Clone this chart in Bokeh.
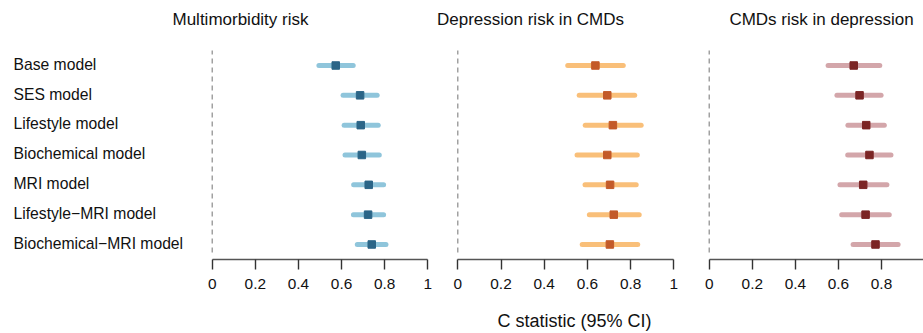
from bokeh.plotting import figure
from bokeh.layouts import row, column
from bokeh.models import Range1d, FixedTicker, Label, ColumnDataSource
from bokeh.embed import file_html
from bokeh.resources import INLINE
from bokeh.core.properties import value

# ---------------- data ----------------
models = ["Base model", "SES model", "Lifestyle model", "Biochemical model",
          "MRI model", "Lifestyle\u2212MRI model", "Biochemical\u2212MRI model"]
titles = ["Multimorbidity risk", "Depression risk in CMDs", "CMDs risk in depression"]
ticks = [0, 0.2, 0.4, 0.6, 0.8, 1]
tick_labels = ["0", "0.2", "0.4", "0.6", "0.8", "1"]
x_title = "C statistic (95% CI)"

est_multi = [0.573, 0.686, 0.689, 0.694, 0.726, 0.723, 0.740]
lo_multi = [0.495, 0.607, 0.612, 0.616, 0.656, 0.655, 0.673]
hi_multi = [0.654, 0.765, 0.770, 0.775, 0.795, 0.795, 0.806]

est_dep = [0.637, 0.692, 0.718, 0.692, 0.705, 0.722, 0.704]
lo_dep = [0.509, 0.562, 0.590, 0.552, 0.589, 0.609, 0.576]
hi_dep = [0.766, 0.819, 0.849, 0.831, 0.826, 0.840, 0.833]

est_cmd = [0.671, 0.698, 0.729, 0.744, 0.715, 0.726, 0.772]
lo_cmd = [0.552, 0.593, 0.644, 0.643, 0.607, 0.615, 0.668]
hi_cmd = [0.792, 0.798, 0.813, 0.844, 0.825, 0.836, 0.877]

# ---------------- style / layout ----------------
FONT = "Liberation Sans"
W = 923
H_TOTAL = 333
H = 300                     # height of the three panels
FRAME_BOTTOM = 259          # y of axis line
ROW0 = 65.0                 # y of first row
ROW_STEP = 29.83
n = len(models)
ys = [n - i for i in range(n)]
y_start = 1 - (FRAME_BOTTOM - (ROW0 + (n - 1) * ROW_STEP)) / ROW_STEP
y_end = y_start + FRAME_BOTTOM / ROW_STEP


def py(page_y):
    return y_start + (FRAME_BOTTOM - page_y) / ROW_STEP


panels = [
    dict(est=est_multi, lo=lo_multi, hi=hi_multi, title=titles[0],
         cl=0, cr=432, zero=211.7, scale=215.6, title_px=240,
         line="#8FC5DB", pt="#2B6587"),
    dict(est=est_dep, lo=lo_dep, hi=hi_dep, title=titles[1],
         cl=432, cr=680, zero=457.3, scale=216.0, title_px=530,
         line="#F9BF79", pt="#C35A29"),
    dict(est=est_cmd, lo=lo_cmd, hi=hi_cmd, title=titles[2],
         cl=680, cr=W, zero=708.7, scale=215.4, title_px=821,
         line="#D3A6AA", pt="#7B2525"),
]

figs = []
for k, d in enumerate(panels):
    width = d["cr"] - d["cl"]
    xs = (d["cl"] - d["zero"]) / d["scale"]
    xe = (d["cr"] - d["zero"]) / d["scale"]
    p = figure(width=width, height=H, title=None,
               x_range=Range1d(xs, xe), y_range=Range1d(y_start, y_end),
               output_backend="svg", toolbar_location=None,
               y_axis_location=None, min_border=0,
               min_border_left=0, min_border_right=0,
               min_border_top=0, min_border_bottom=H - FRAME_BOTTOM)
    p.outline_line_color = None
    p.xgrid.visible = False
    p.ygrid.visible = False
    p.background_fill_color = "white"
    p.border_fill_color = "white"

    src = ColumnDataSource(dict(y=ys, est=d["est"], lo=d["lo"], hi=d["hi"]))

    # reference line at 0
    p.segment(x0=[0], x1=[0], y0=[py(252)], y1=[py(50)],
              line_color="#8a8a8a", line_width=1.2, line_dash="5 4")

    p.segment(x0="lo", x1="hi", y0="y", y1="y", source=src,
              line_color=d["line"], line_width=5, line_cap="round")
    p.scatter(x="est", y="y", source=src, marker="square", size=7.5,
              fill_color=d["pt"], line_color=d["pt"])

    ax = p.xaxis[0]
    ax.ticker = FixedTicker(ticks=ticks)
    ax.major_label_overrides = {t: lab for t, lab in zip(ticks, tick_labels)}
    ax.bounds = (0, 1)
    ax.minor_tick_line_color = None
    ax.major_tick_in = 0
    ax.major_tick_out = 10
    ax.axis_line_color = "#555555"
    ax.axis_line_width = 1.6
    ax.major_tick_line_color = "#333333"
    ax.major_tick_line_width = 1.4
    ax.major_label_standoff = 9
    ax.major_label_text_font = FONT
    ax.major_label_text_font_size = "15.4px"
    ax.major_label_text_color = "#111111"

    p.add_layout(Label(x=(d["title_px"] - d["zero"]) / d["scale"], y=py(19),
                       text=d["title"], text_align="center", text_baseline="middle",
                       text_font=FONT, text_font_size="17px", text_color="#111111"))

    if k == 0:
        lx = (13 - d["zero"]) / d["scale"]
        p.text(x=[lx] * n, y=[v + 0.04 for v in ys], text=models,
               text_font=value(FONT), text_font_size="15.7px",
               text_align="left", text_baseline="middle", text_color="#111111")
    figs.append(p)

# strip carrying the shared x-axis title
HB = H_TOTAL - H
fb = figure(width=W, height=HB, title=None, x_range=Range1d(0, W), y_range=Range1d(0, HB),
            output_backend="svg", toolbar_location=None, min_border=0,
            x_axis_location=None, y_axis_location=None)
fb.outline_line_color = None
fb.xgrid.visible = False
fb.ygrid.visible = False
fb.add_layout(Label(x=574, y=H_TOTAL - 320.5, text=x_title, text_align="center",
                    text_baseline="middle", text_font=FONT, text_font_size="18px",
                    text_color="#111111"))

layout = column(row(*figs, spacing=0), fb, spacing=0)
open("out.html", "w").write(file_html(layout, INLINE))
